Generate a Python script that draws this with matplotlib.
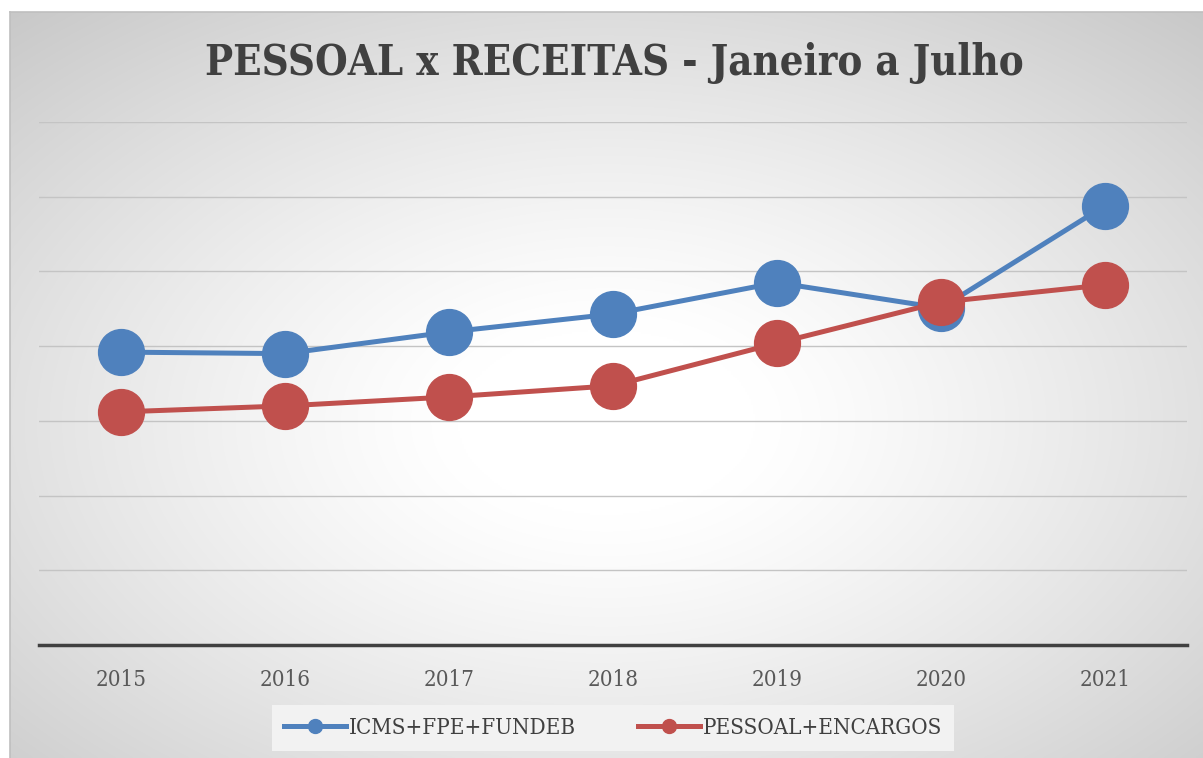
import numpy as np
import matplotlib
matplotlib.use('Agg')
import matplotlib.pyplot as plt
from matplotlib.lines import Line2D

# data (arbitrary units, gridline every 10)
years = ["2015", "2016", "2017", "2018", "2019", "2020", "2021"]
receitas = [39.2, 39.0, 41.9, 44.3, 48.5, 45.1, 58.8]
pessoal = [31.2, 32.0, 33.2, 34.7, 40.4, 45.9, 48.2]

BLUE = "#4F81BD"
RED = "#C0504D"
TEXT = "#595959"

W, H = 1203, 758
fig = plt.figure(figsize=(W / 100, H / 100), dpi=100)
fig.patch.set_facecolor("white")

# radial gradient background of the chart area
bg = fig.add_axes([10 / W, 0, (W - 10) / W, (H - 12) / H], zorder=-5)
yy, xx = np.mgrid[-1:1:400j, -1:1:600j]
r = np.sqrt(xx ** 2 + (yy - 0.1) ** 2)
shade = np.clip(1.0 - 0.15 * np.clip(r - 0.25, 0, None) ** 1.2 / 0.9, 0, 1)
bg.imshow(np.dstack([shade] * 3), aspect="auto", extent=[0, 1, 0, 1],
          interpolation="bilinear")
bg.set_xticks([])
bg.set_yticks([])
for s in bg.spines.values():
    s.set_color("#bfbfbf")
    s.set_linewidth(1.2)
bg.spines["right"].set_visible(False)
bg.spines["bottom"].set_visible(False)

ax = fig.add_axes([39 / W, 1 - 645 / H, (1187 - 39) / W, (645 - 122) / H])
ax.patch.set_alpha(0)
x = np.arange(len(years))

ax.plot(x, receitas, "-o", color=BLUE, lw=3.6, markersize=33, zorder=3)
ax.plot(x, pessoal, "-o", color=RED, lw=3.6, markersize=33, zorder=4)

ax.set_xlim(-0.5, len(years) - 0.5)
ax.set_ylim(0, 70)
ax.set_yticks(np.arange(10, 71, 10))
ax.yaxis.grid(True, color="#c4c4c4", lw=1.0)
ax.tick_params(axis="y", left=False, labelleft=False)
ax.set_xticks(x)
ax.set_xticklabels(years, fontsize=16, color=TEXT, family="DejaVu Serif",
                   fontstretch="condensed")
ax.tick_params(axis="x", length=0, pad=17)
for side in ["top", "right", "left"]:
    ax.spines[side].set_visible(False)
ax.spines["bottom"].set_color("#404040")
ax.spines["bottom"].set_linewidth(2.5)

fig.text(614 / W, 1 - 63 / H, "PESSOAL x RECEITAS - Janeiro a Julho",
         ha="center", va="center", fontsize=30, fontweight="bold",
         color="#404040", family="DejaVu Serif", fontstretch="condensed")

handles = [
    Line2D([], [], color=BLUE, lw=3.6, marker="o", markersize=10),
    Line2D([], [], color=RED, lw=3.6, marker="o", markersize=10),
]
leg = fig.legend(handles, ["ICMS+FPE+FUNDEB", "PESSOAL+ENCARGOS"],
                 loc="center", bbox_to_anchor=(613 / W, 1 - 728 / H), ncol=2,
                 frameon=True, facecolor="#f2f2f2", edgecolor="none",
                 fancybox=False, handlelength=2.8, handletextpad=0.1,
                 columnspacing=2.8, borderpad=0.55, borderaxespad=0,
                 prop={"family": "DejaVu Serif", "size": 16, "stretch": "condensed"})
leg.get_frame().set_alpha(1)
for t in leg.get_texts():
    t.set_color("#404040")

fig.savefig("out.png", dpi=100)
